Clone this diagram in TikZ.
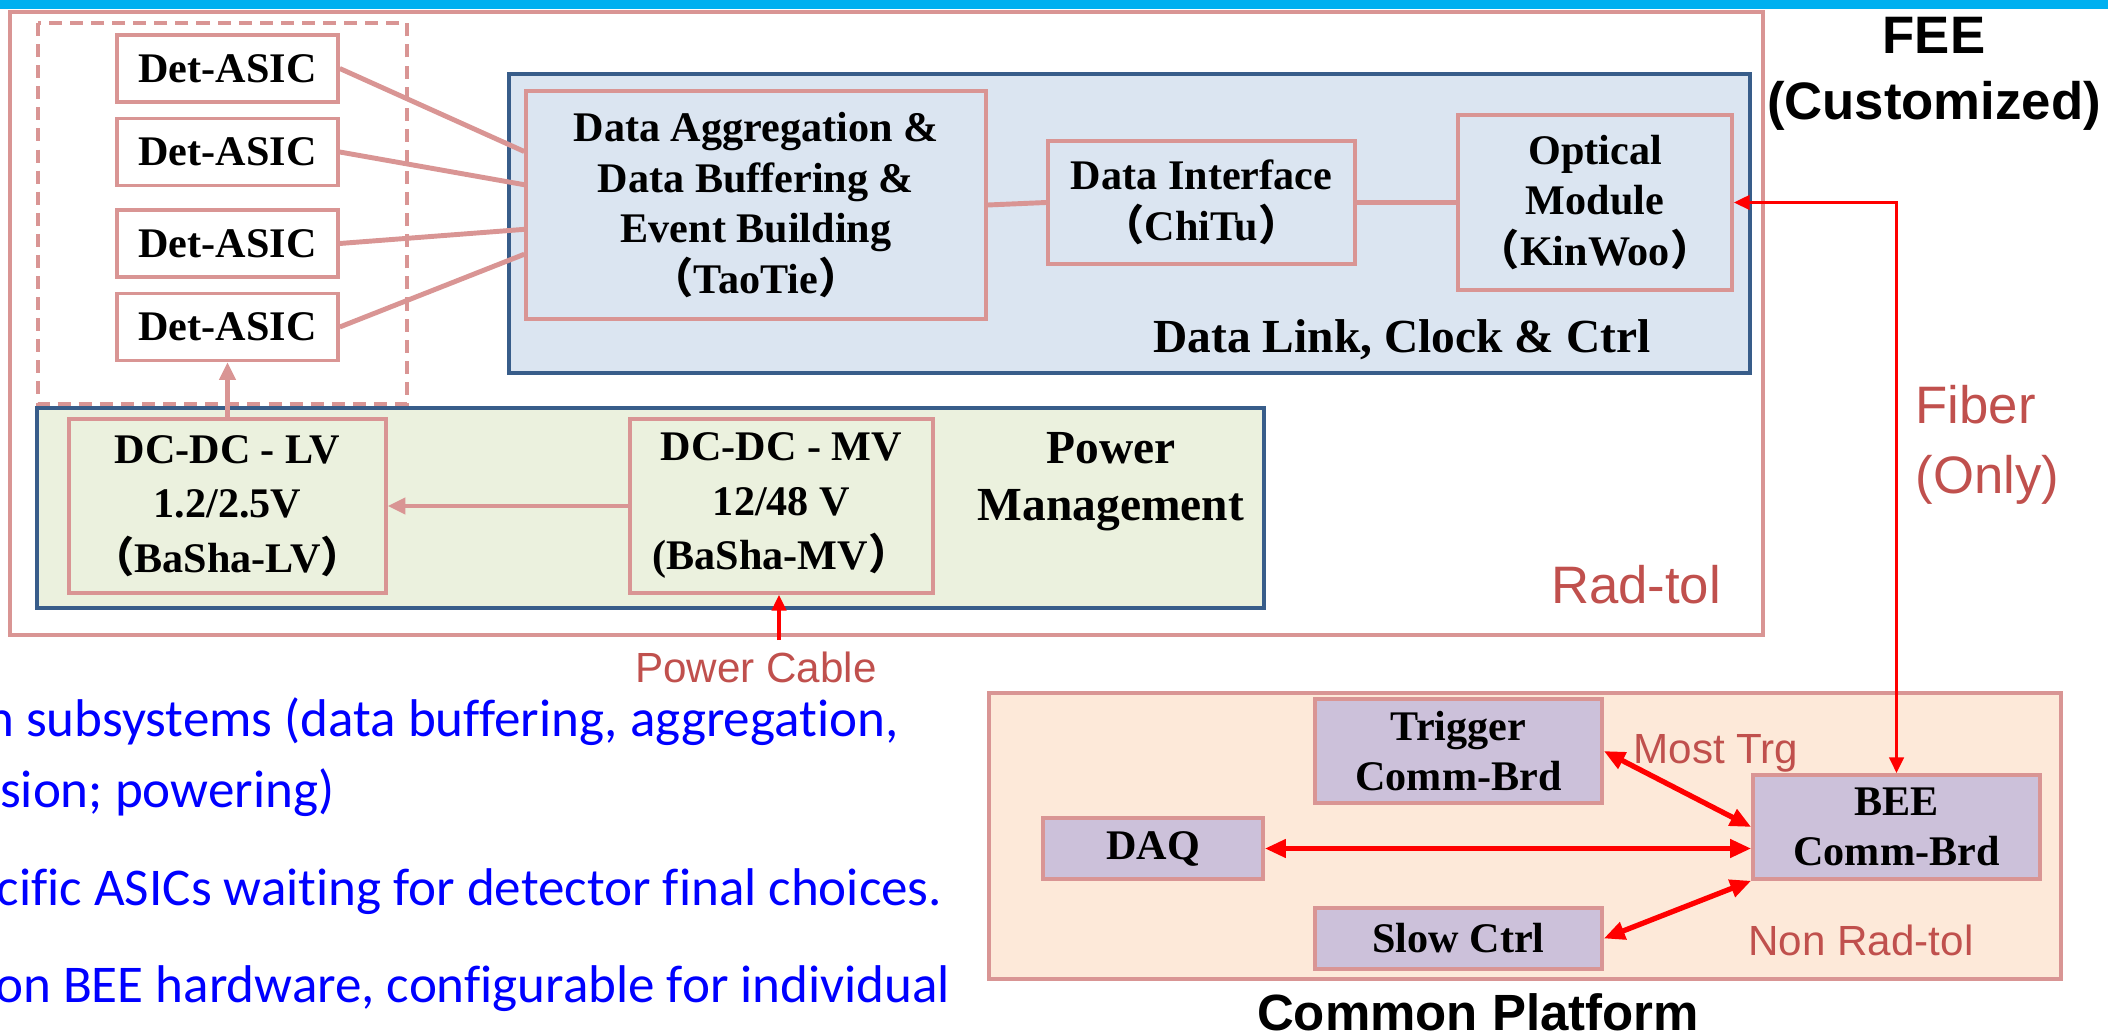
\documentclass[tikz,border=0pt]{standalone}
\usepackage{fontspec}
\setmainfont{Liberation Serif}
\setsansfont{Liberation Sans}
\newfontfamily\notefont{Carlito}[Ligatures=NoCommon]
\newfontfamily\cjk{Noto Sans CJK SC}
\usetikzlibrary{arrows.meta}

\definecolor{boxpink}{HTML}{D99594}
\definecolor{linkblue}{HTML}{385D8A}
\definecolor{linkfill}{HTML}{DBE5F1}
\definecolor{powerfill}{HTML}{EBF1DE}
\definecolor{platfill}{HTML}{FDE9D9}
\definecolor{brdfill}{HTML}{CCC1DA}
\definecolor{labelred}{HTML}{C0504D}
\definecolor{barcyan}{HTML}{00B0F0}
\definecolor{noteblue}{HTML}{0000FF}

\newcommand{\fwl}{{\cjk （}}
\newcommand{\fwr}{{\cjk ）}}
\newcommand{\boxfnt}{\fontsize{12}{14.4}\selectfont\bfseries}

\tikzset{
  frame/.style={draw=boxpink, line width=0.9pt},
  asicbox/.style={draw=boxpink, line width=1pt, fill=white, inner sep=0pt, align=center, font=\boxfnt},
  brdbox/.style={asicbox, fill=brdfill},
  linkbox/.style={draw=linkblue, line width=1.2pt, fill=linkfill, inner sep=0pt},
  powerbox/.style={draw=linkblue, line width=1.2pt, fill=powerfill, inner sep=0pt},
  platbox/.style={draw=boxpink, line width=1pt, fill=platfill, inner sep=0pt},
  grouplabel/.style={inner sep=0pt, align=center, font=\fontsize{13.5}{16.2}\selectfont\bfseries},
  redlabel/.style={inner sep=0pt, align=left, text=labelred, font=\sffamily\fontsize{15}{20}\selectfont},
  note/.style={inner sep=0pt, anchor=base east, text=noteblue, font=\notefont\fontsize{15.1}{18}\selectfont},
  pinkline/.style={draw=boxpink, line width=1.4pt},
  pinkarrow/.style={pinkline, -{Triangle[length=5pt,width=4.5pt]}},
  cablearrow/.style={draw=red, line width=1.1pt, -{Triangle[length=4.5pt,width=4pt]}},
  fiber/.style={draw=red, line width=1.1pt, {Triangle[length=4.5pt,width=4pt]}-{Triangle[length=4.5pt,width=4pt]}},
  redlink/.style={draw=red, line width=1.5pt, {Triangle[length=6pt,width=5pt]}-{Triangle[length=6pt,width=5pt]}}
}

\begin{document}
\begin{tikzpicture}[x=0.1mm, y=-0.1mm]
%%Canvas
\useasboundingbox (0,0) rectangle (2108,1033);
\fill[barcyan] (0,0) rectangle (2108,9);
%%Frames
\draw[frame] (10,12) rectangle (1763,635);
\draw[frame, dash pattern=on 3.7pt off 2.3pt] (38,23) rectangle (407,404);
%%Groups
\node[linkbox, minimum width=124.1mm, minimum height=29.9mm] (datalink) at (1129.5,223.5) {};
\node[powerbox, minimum width=122.7mm, minimum height=20mm] (power) at (650.5,508) {};
\node[platbox, minimum width=107.2mm, minimum height=28.6mm] (platform) at (1525,836) {};
%%Det-ASICs
\node[asicbox, minimum width=22.1mm, minimum height=6.7mm] (det1) at (227.5,68.5) {Det-ASIC};
\node[asicbox, minimum width=22.1mm, minimum height=6.7mm] (det2) at (227.5,152) {Det-ASIC};
\node[asicbox, minimum width=22.1mm, minimum height=6.7mm] (det3) at (227.5,243.5) {Det-ASIC};
\node[asicbox, minimum width=22.1mm, minimum height=6.7mm] (det4) at (227.5,327) {Det-ASIC};
%%Data link
\node[asicbox, fill=linkfill, minimum width=46mm, minimum height=22.8mm] (taotie) at (756,205)
  {Data Aggregation \&\\Data Buffering \&\\Event Building\\\fwl TaoTie\fwr};
\node[asicbox, fill=linkfill, minimum width=30.7mm, minimum height=12.3mm] (chitu) at (1201.5,202.5)
  {Data Interface\\\fwl ChiTu\fwr};
\node[asicbox, fill=linkfill, minimum width=27.4mm, minimum height=17.5mm] (kinwoo) at (1595,202.5)
  {Optical\\Module\\\fwl KinWoo\fwr};
\node[grouplabel] (linklbl) at (1402,340) {Data Link, Clock \& Ctrl};
%%Power
\node[asicbox, fill=powerfill, minimum width=31.7mm, minimum height=17.4mm,
  font=\fontsize{12}{15.5}\selectfont\bfseries] (lv) at (227.5,506) {DC-DC - LV\\1.2/2.5V\\\fwl BaSha-LV\fwr};
\node[asicbox, fill=powerfill, minimum width=30.3mm, minimum height=17.4mm,
  font=\fontsize{12}{15.5}\selectfont\bfseries] (mv) at (781.5,506) {DC-DC - MV\\12/48 V\\(BaSha-MV\fwr};
\node[grouplabel] (powlbl) at (1111,482) {Power\\Management};
%%Links
\draw[pinkline] (det1.east) -- (taotie.167);
\draw[pinkline] (det2.east) -- (taotie.175);
\draw[pinkline] (det3.east) -- (taotie.186);
\draw[pinkline] (det4.east) -- (taotie.192);
\draw[pinkline] (taotie.east) -- (chitu.west);
\draw[pinkline] (chitu.east) -- (kinwoo.west);
\draw[pinkarrow] (mv.west) -- (lv.east);
\draw[pinkarrow] (lv.north) -- (det4.south);
%%Common platform
\node[brdbox, minimum width=28.7mm, minimum height=10.4mm] (trigger) at (1458.5,751) {Trigger\\Comm-Brd};
\node[brdbox, minimum width=22mm, minimum height=6.1mm] (daq) at (1153,848.5) {DAQ};
\node[brdbox, minimum width=28.7mm, minimum height=10.4mm] (bee) at (1896.5,827) {BEE\\Comm-Brd};
\node[brdbox, minimum width=28.7mm, minimum height=6.1mm] (slow) at (1458.5,938.5) {Slow Ctrl};
\draw[redlink] (trigger.east) -- (bee.west);
\draw[redlink] (daq.east) -- (daq.east -| bee.west);
\draw[redlink] (slow.east) -- (bee.south west);
%%Cables
\draw[fiber] (kinwoo.east) -| (bee.north);
\coordinate (cable) at (779,640);
\draw[cablearrow] (cable) -- (cable |- mv.south);
%%Labels
\node[inner sep=0pt, align=center, font=\sffamily\bfseries\fontsize{15}{18.8}\selectfont] (fee) at (1934,74) {FEE\\(Customized)};
\node[redlabel] (radtol) at (1636,585) {Rad-tol};
\node[redlabel, anchor=west] (fiberlbl) at (1915,445) {Fiber\\(Only)};
\node[redlabel, font=\sffamily\fontsize{12}{14}\selectfont] (cablelbl) at (756,667) {Power Cable};
\node[redlabel, font=\sffamily\fontsize{12}{14}\selectfont] (trglbl) at (1716,753) {Most Trg};
\node[redlabel, font=\sffamily\fontsize{12}{14}\selectfont] (nonrad) at (1861,940) {Non Rad-tol};
\node[inner sep=0pt, font=\sffamily\bfseries\fontsize{14.5}{17}\selectfont] (platlbl) at (1478,1012) {Common Platform};
%%Notes
\node[note] (note1) at (899,736) {n subsystems (data buffering, aggregation,};
\node[note] (note2) at (335,807) {sion; powering)};
\node[note] (note3) at (943,905) {cific ASICs waiting for detector final choices.};
\node[note] (note4) at (951,1002) {on BEE hardware, configurable for individual};
\end{tikzpicture}
\end{document}
